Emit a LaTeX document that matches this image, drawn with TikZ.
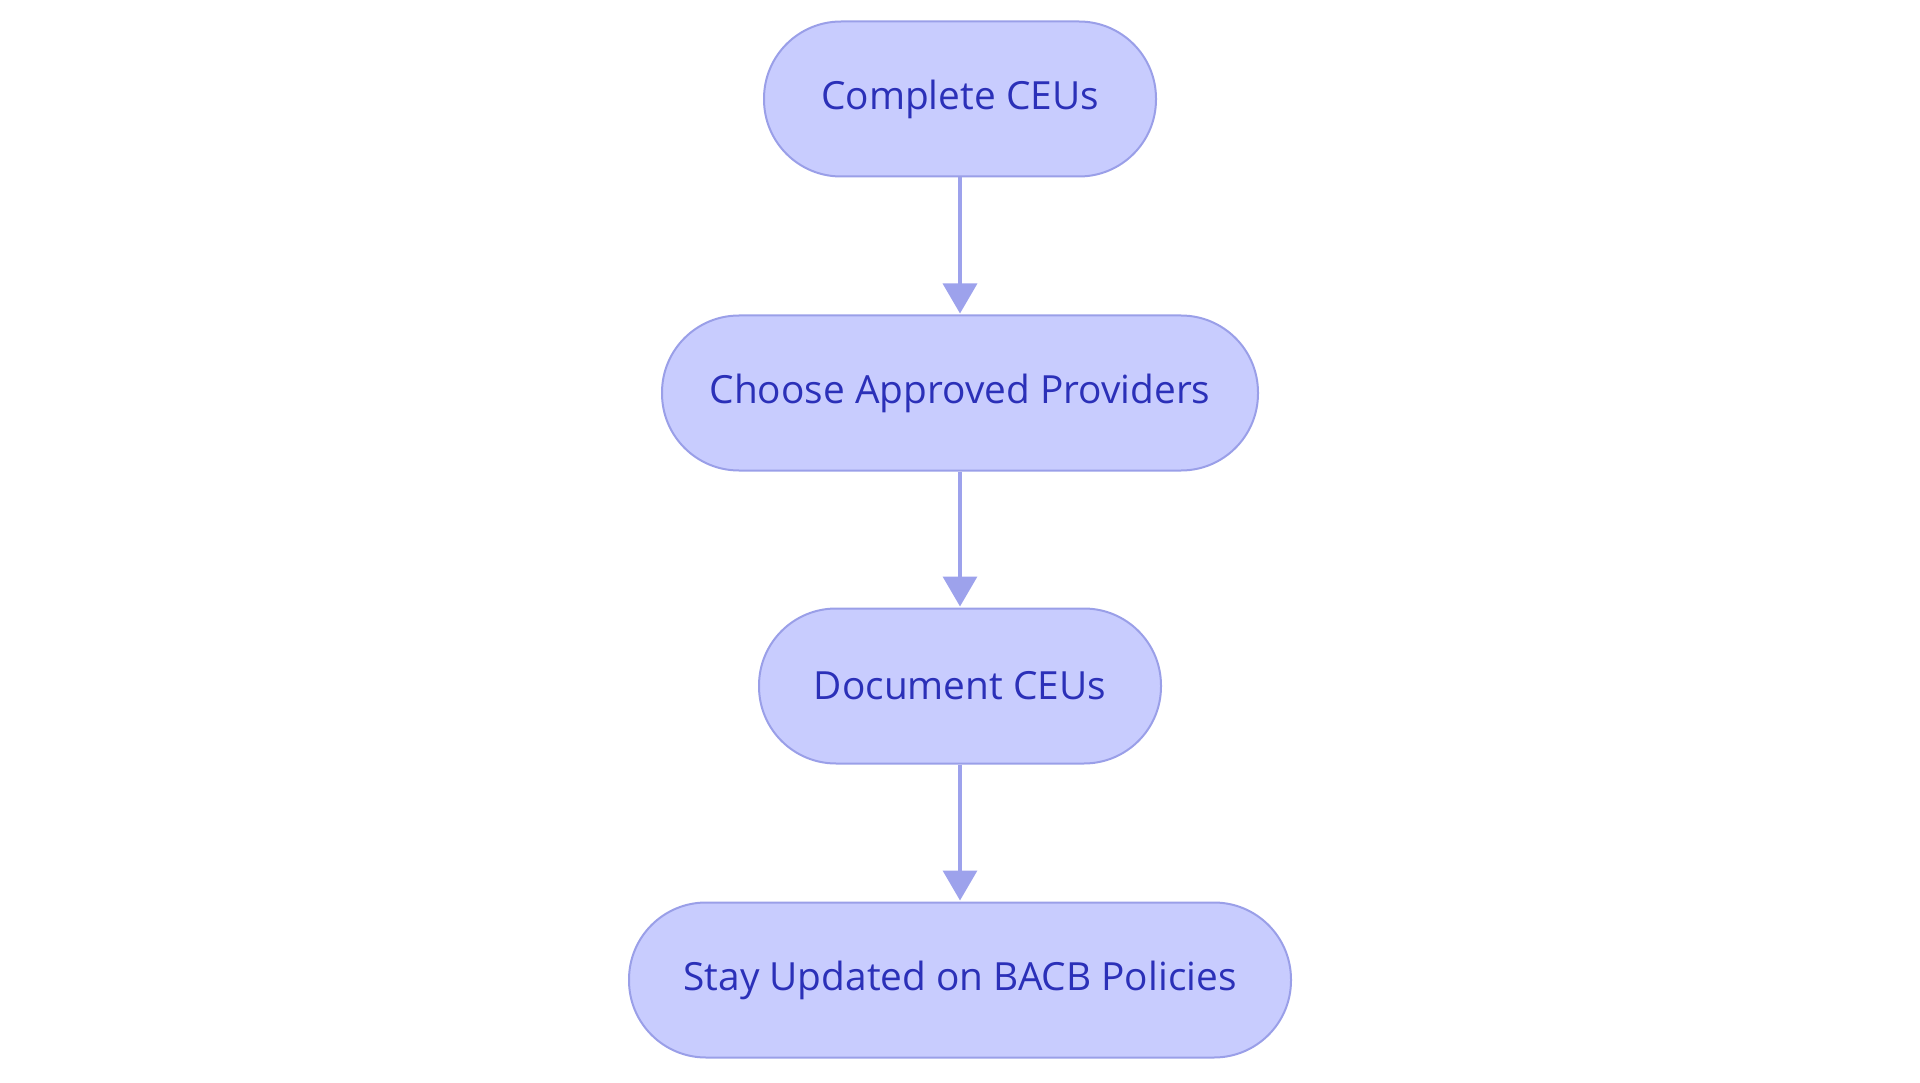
\documentclass[tikz,border=0pt]{standalone}
\usepackage{fontspec}
\setmainfont{Open Sans}
\usetikzlibrary{arrows.meta}
\definecolor{fillc}{HTML}{C8CCFE}
\definecolor{edgec}{HTML}{9A9FE8}
\definecolor{textc}{HTML}{2B30B8}
\definecolor{arrc}{HTML}{9DA2EC}
\tikzset{
  stadium/.style={draw=edgec, fill=fillc, line width=2pt, rounded corners=77pt,
    minimum height=155pt, inner sep=0pt, text=textc, font=\fontsize{38.8pt}{46pt}\selectfont},
  flow/.style={draw=arrc, line width=3.5pt, -{Triangle[length=30pt,width=34pt]}, shorten >=1pt}
}
\begin{document}
\begin{tikzpicture}[x=1pt,y=-1pt]
\useasboundingbox (0,0) rectangle (1920,1083);
\node[stadium, minimum width=392pt] (a) at (960,99) {Complete CEUs};
\node[stadium, minimum width=596pt] (b) at (960,393) {Choose Approved Providers};
\node[stadium, minimum width=402pt] (c) at (960,686) {Document CEUs};
\node[stadium, minimum width=662pt] (d) at (960,980) {Stay Updated on BACB Policies};
\draw[flow] (a) -- (b);
\draw[flow] (b) -- (c);
\draw[flow] (c) -- (d);
\end{tikzpicture}
\end{document}
